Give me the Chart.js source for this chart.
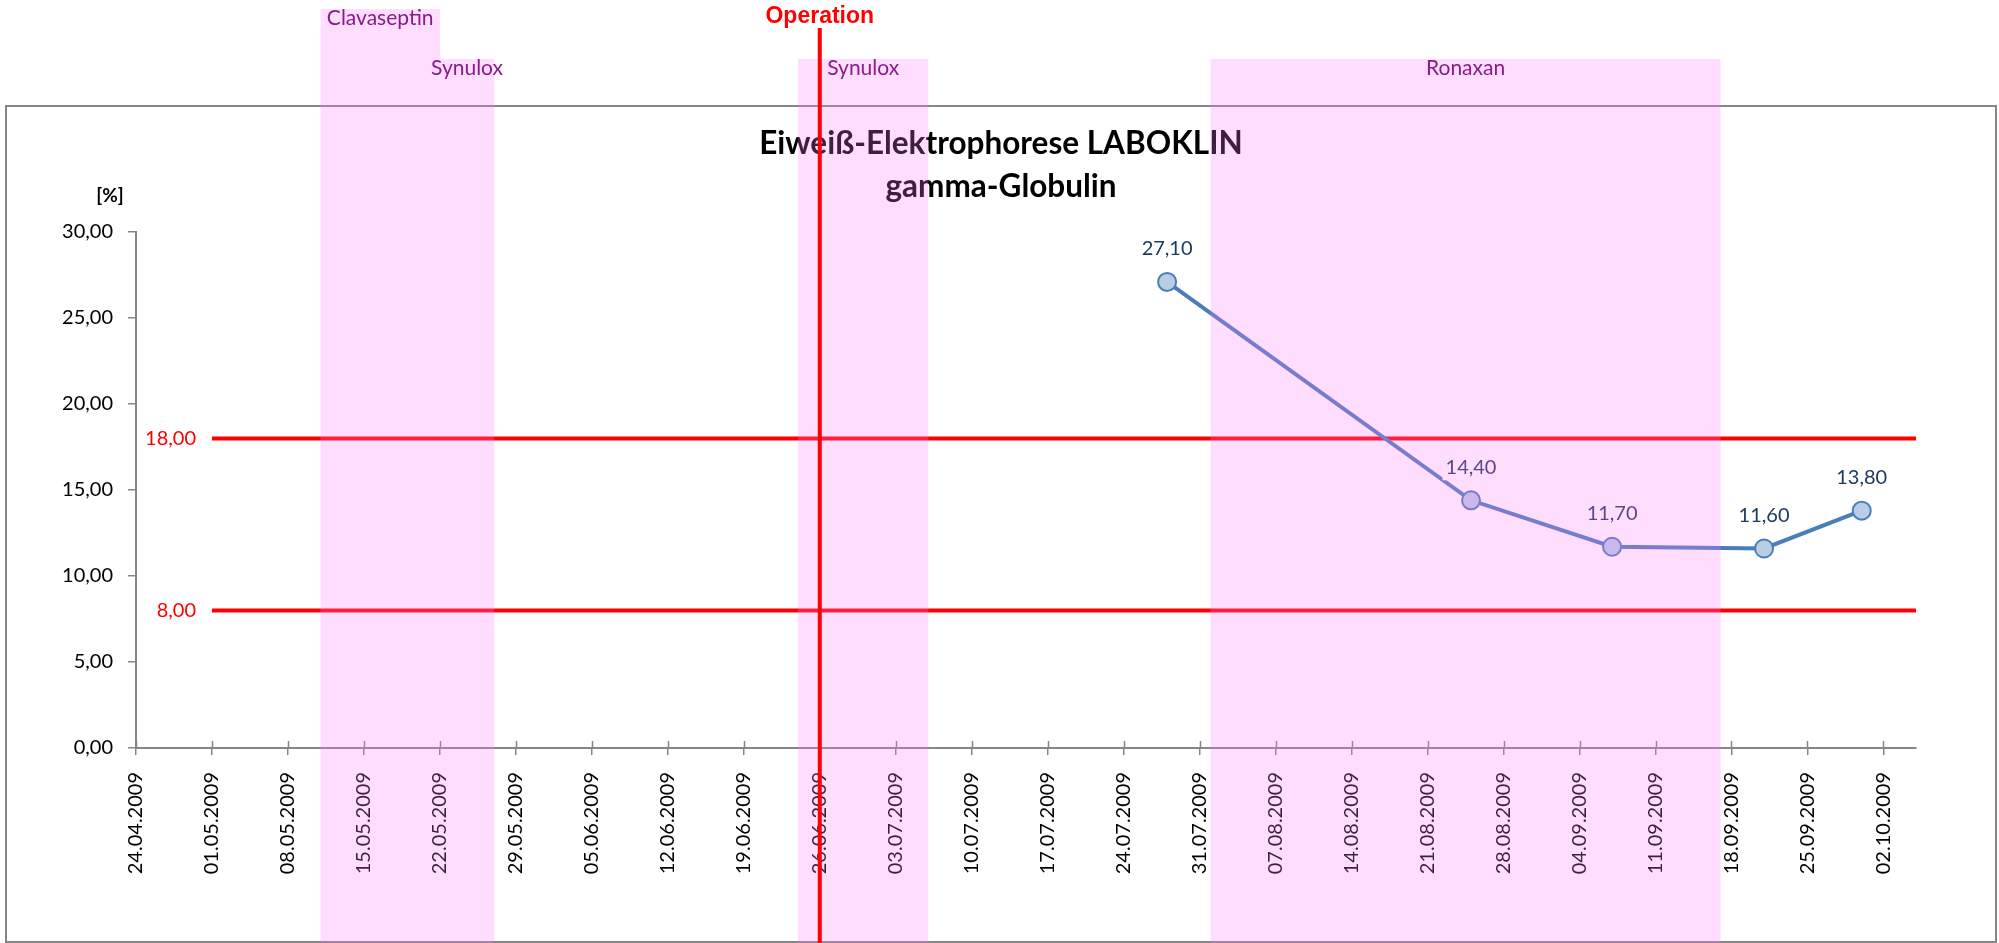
<!DOCTYPE html>
<html>
<head>
<meta charset="utf-8">
<script src="https://cdn.jsdelivr.net/npm/chart.js@4.4.1/dist/chart.umd.min.js"></script>
<style>
  html, body { margin: 0; padding: 0; background: #fff; }
  #wrap { width: 1999px; height: 943px; }
</style>
</head>
<body>
<div id="wrap"><canvas id="gamma_chart" width="1999" height="943"></canvas></div>
<script>
// measurement dates and values (gamma-Globulin, %)
const sampleDates = ['28.07.2009', '25.08.2009', '07.09.2009', '21.09.2009', '30.09.2009'];
const gammaValues = [27.1, 14.4, 11.7, 11.6, 13.8];

// reference range
const refUpper = 18;
const refLower = 8;
const refFrom = '01.05.2009';

// axis range
const axisStart = '24.04.2009';
const axisEnd = '05.10.2009';
const yMin = 0, yMax = 30, yStep = 5;

// medication periods
const medNames = ['Clavaseptin', 'Synulox', 'Synulox', 'Ronaxan'];
const medFrom = ['11.05.2009', '22.05.2009', '24.06.2009', '01.08.2009'];
const medTo = ['22.05.2009', '27.05.2009', '06.07.2009', '17.09.2009'];
const operationDate = '26.06.2009';

const DAY = 864e5;
function parseDate(s) {
    const [d, m, y] = s.split('.').map(Number);
    return Date.UTC(y, m - 1, d);
}
const base = parseDate(axisStart);
function dayOf(s) { return Math.round((parseDate(s) - base) / DAY); }
function fmtDay(v) {
    const t = new Date(base + v * DAY);
    const dd = String(t.getUTCDate()).padStart(2, '0');
    const mm = String(t.getUTCMonth() + 1).padStart(2, '0');
    return dd + '.' + mm + '.' + t.getUTCFullYear();
}
const comma = v => v.toFixed(2).replace('.', ',');

const axisGrey = '#868686';

const overlay = {
    id: 'overlay',
    afterDraw(chart) {
        const ctx = chart.ctx;
        const xs = chart.scales.x, ys = chart.scales.y;
        const area = chart.chartArea;
        ctx.save();

        // outer frame
        ctx.strokeStyle = axisGrey;
        ctx.lineWidth = 2;
        ctx.strokeRect(6, 106, 1990, 836);

        // cross tick marks above x axis
        ctx.beginPath();
        xs.ticks.forEach(t => {
            const px = Math.round(xs.getPixelForValue(t.value)) + 0.5;
            ctx.moveTo(px, area.bottom - 7);
            ctx.lineTo(px, area.bottom);
        });
        ctx.lineWidth = 1.5;
        ctx.stroke();

        // value labels
        ctx.font = '20px Lato';
        ctx.textAlign = 'center';
        ctx.textBaseline = 'middle';
        chart.getDatasetMeta(0).data.forEach((p, i) => {
            const txt = comma(gammaValues[i]);
            const w = ctx.measureText(txt).width;
            ctx.fillStyle = '#fff';
            ctx.fillRect(p.x - w / 2 - 3, p.y - 46, w + 6, 26);
            ctx.fillStyle = '#1F3A60';
            ctx.fillText(txt, p.x, p.y - 33);
        });

        // reference labels
        ctx.font = '20px Lato';
        ctx.textAlign = 'right';
        ctx.fillStyle = '#FF0000';
        [refUpper, refLower].forEach(v => {
            ctx.fillText(comma(v), xs.getPixelForValue(dayOf(refFrom)) - 16, ys.getPixelForValue(v));
        });

        // title
        ctx.fillStyle = '#000';
        ctx.textAlign = 'center';
        ctx.textBaseline = 'alphabetic';
        ctx.font = 'bold 31.5px Lato';
        ctx.fillText('Eiweiß-Elektrophorese LABOKLIN', 1001, 154);
        ctx.fillText('gamma-Globulin', 1001, 197);
        ctx.font = 'bold 19px Lato';
        ctx.fillText('[%]', 110, 202);

        // medication bands
        medNames.forEach((name, i) => {
            const x0 = xs.getPixelForValue(dayOf(medFrom[i]));
            const x1 = xs.getPixelForValue(dayOf(medTo[i]));
            const top = i === 0 ? 9 : 59;
            ctx.fillStyle = 'rgba(255,120,255,0.25)';
            ctx.fillRect(x0, top, x1 - x0, 943 - top);
        });
        ctx.font = '21px Lato';
        ctx.fillStyle = '#8A1A8A';
        medNames.forEach((name, i) => {
            const x0 = xs.getPixelForValue(dayOf(medFrom[i]));
            const x1 = xs.getPixelForValue(dayOf(medTo[i]));
            const top = i === 0 ? 9 : 59;
            ctx.fillText(name, (x0 + x1) / 2, top + 16);
        });

        // operation marker
        const ox = xs.getPixelForValue(dayOf(operationDate));
        ctx.strokeStyle = '#FF0000';
        ctx.lineWidth = 4;
        ctx.beginPath();
        ctx.moveTo(ox, 28);
        ctx.lineTo(ox, 943);
        ctx.stroke();
        ctx.font = 'bold 23px "Liberation Sans"';
        ctx.fillStyle = '#FF0000';
        ctx.fillText('Operation', ox, 23);

        ctx.restore();
    }
};

new Chart(document.getElementById('gamma_chart'), {
    type: 'line',
    data: {
        datasets: [{
            label: 'gamma-Globulin',
            data: sampleDates.map((d, i) => ({ x: dayOf(d), y: gammaValues[i] })),
            borderColor: '#4A7EBB',
            borderWidth: 4,
            pointRadius: 9,
            pointBackgroundColor: '#B9CDE5',
            pointBorderColor: '#4A7EBB',
            pointBorderWidth: 2,
            tension: 0
        }, {
            label: 'upper',
            data: [{ x: dayOf(refFrom), y: refUpper }, { x: dayOf(axisEnd), y: refUpper }],
            borderColor: '#FF0000',
            borderWidth: 4,
            pointRadius: 0
        }, {
            label: 'lower',
            data: [{ x: dayOf(refFrom), y: refLower }, { x: dayOf(axisEnd), y: refLower }],
            borderColor: '#FF0000',
            borderWidth: 4,
            pointRadius: 0
        }]
    },
    options: {
        responsive: false,
        devicePixelRatio: 1,
        animation: false,
        layout: { padding: { top: 232, right: 83, left: 0, bottom: 0 } },
        plugins: { legend: { display: false }, tooltip: { enabled: false } },
        scales: {
            x: {
                type: 'linear',
                min: 0,
                max: dayOf(axisEnd),
                afterBuildTicks: s => { s.ticks = s.ticks.filter(t => t.value % 7 === 0); },
                afterFit: s => { s.height = 195; },
                ticks: {
                    stepSize: 7,
                    autoSkip: false,
                    minRotation: 90,
                    maxRotation: 90,
                    padding: 17,
                    color: '#000',
                    font: { family: 'Lato', size: 20 },
                    callback: v => fmtDay(v)
                },
                grid: { drawOnChartArea: false, tickLength: 7, color: axisGrey, lineWidth: 1.5 },
                border: { color: axisGrey, width: 2 }
            },
            y: {
                min: yMin,
                max: yMax,
                afterFit: s => { s.width = 136; },
                ticks: {
                    stepSize: yStep,
                    padding: 15,
                    color: '#000',
                    font: { family: 'Lato', size: 20 },
                    callback: v => comma(v)
                },
                grid: { drawOnChartArea: false, tickLength: 8, color: axisGrey, lineWidth: 1.5 },
                border: { color: axisGrey, width: 2 }
            }
        }
    },
    plugins: [overlay]
});
</script>
</body>
</html>
